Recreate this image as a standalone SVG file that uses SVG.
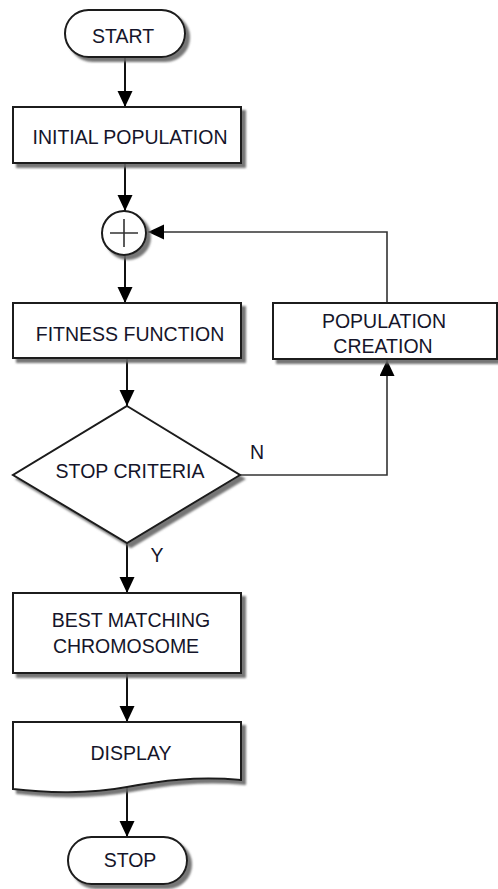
<svg xmlns="http://www.w3.org/2000/svg" width="498" height="889" viewBox="0 0 498 889">
<style>
.shape{fill:#fff;stroke:#1a1a1a;stroke-width:2;filter:url(#sh)}
.lbl{font-family:"Liberation Sans",Arial,sans-serif;font-size:19.5px;fill:#15152a;text-anchor:middle}
.conn{fill:none;stroke:#111;stroke-width:2}
.thin{fill:none;stroke:#333;stroke-width:1.6}
</style>
<defs>
<filter id="sh" x="-10%" y="-10%" width="130%" height="140%">
<feDropShadow dx="4" dy="4" stdDeviation="1" flood-color="#666" flood-opacity="0.9"/>
</filter>
<marker id="ah" markerUnits="userSpaceOnUse" markerWidth="17" markerHeight="16" refX="16" refY="7.5" orient="auto">
<path d="M0,0 L16,7.5 L0,15 Z" fill="#000"/>
</marker>
</defs>
<g id="connectors">
<line class="conn" x1="125" y1="57" x2="125" y2="107" marker-end="url(#ah)"/>
<line class="conn" x1="125" y1="163" x2="125" y2="211" marker-end="url(#ah)"/>
<line class="conn" x1="125" y1="255" x2="125" y2="303" marker-end="url(#ah)"/>
<polyline class="thin" points="387,303 387,232 148,232" marker-end="url(#ah)"/>
<line class="conn" x1="127" y1="358" x2="127" y2="406" marker-end="url(#ah)"/>
<polyline class="thin" points="240,475 387,475 387,360" marker-end="url(#ah)"/>
<line class="conn" x1="127" y1="543" x2="127" y2="593" marker-end="url(#ah)"/>
<line class="conn" x1="127" y1="673" x2="127" y2="722" marker-end="url(#ah)"/>
<line class="conn" x1="127" y1="788" x2="127" y2="837" marker-end="url(#ah)"/>
<text class="lbl" x="257" y="459">N</text>
<text class="lbl" x="157" y="562">Y</text>
</g>
<g id="start">
<rect class="shape" x="65" y="10" width="120" height="47" rx="23.5"/>
<text class="lbl" x="123" y="43">START</text>
</g>
<g id="initial-population">
<rect class="shape" x="13" y="107" width="228" height="56"/>
<text class="lbl" x="130" y="144">INITIAL POPULATION</text>
</g>
<g id="sum">
<circle class="shape" cx="124" cy="233" r="22"/>
<path d="M124,219 V247 M110,233 H138" stroke="#333" stroke-width="1.6" fill="none"/>
</g>
<g id="fitness-function">
<rect class="shape" x="13" y="303" width="228" height="55"/>
<text class="lbl" x="130" y="341">FITNESS FUNCTION</text>
</g>
<g id="population-creation">
<rect class="shape" x="273" y="303" width="224" height="56"/>
<text class="lbl" x="384" y="328">POPULATION</text>
<text class="lbl" x="383" y="353">CREATION</text>
</g>
<g id="stop-criteria">
<polygon class="shape" points="127,406 240,475 127,543 13,475"/>
<text class="lbl" x="130" y="478">STOP CRITERIA</text>
</g>
<g id="best-matching">
<rect class="shape" x="13" y="593" width="228" height="80"/>
<text class="lbl" x="131" y="627">BEST MATCHING</text>
<text class="lbl" x="126" y="653">CHROMOSOME</text>
</g>
<g id="display">
<path class="shape" d="M13,722 H241 V780 C195,776 160,781 127,787 C90,794 45,793 13,789 Z"/>
<text class="lbl" x="131" y="760">DISPLAY</text>
</g>
<g id="stop">
<rect class="shape" x="68" y="837" width="119" height="47" rx="23.5"/>
<text class="lbl" x="130" y="867">STOP</text>
</g>
</svg>
